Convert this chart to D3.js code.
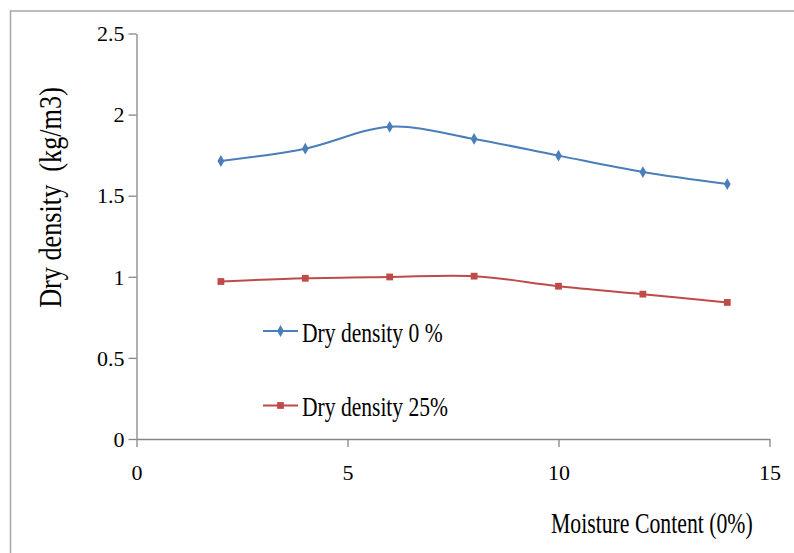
<!DOCTYPE html>
<html>
<head>
<meta charset="utf-8">
<script src="https://cdn.jsdelivr.net/npm/d3@7"></script>
<style>
  html, body { margin: 0; padding: 0; background: #fff; }
  svg { display: block; }
</style>
</head>
<body>
<svg id="chart" width="794" height="553"></svg>
<script>
// Moisture content (%) on the x axis
const moisture = [2, 4, 6, 8, 10, 12, 14];
// Dry density (kg/m3) for each mix
const dryDensity0 = [1.714, 1.79, 1.925, 1.85, 1.747, 1.646, 1.572];
const dryDensity25 = [0.971, 0.991, 0.999, 1.004, 0.942, 0.893, 0.842];
const seriesNames = ["Dry density 0 %", "Dry density 25%"];
const xTicks = [0, 5, 10, 15];
const yTicks = [0, 0.5, 1, 1.5, 2, 2.5];

const serif = '"Liberation Serif"';
const svg = d3.select("#chart");

// outer chart frame (runs off the right and bottom edges)
svg.append("rect")
  .attr("x", 10.5).attr("y", 11)
  .attr("width", 814).attr("height", 573)
  .attr("fill", "none").attr("stroke", "#a6a6a6").attr("stroke-width", 1.5);

const x = d3.scaleLinear().domain([0, 15]).range([136.5, 769.5]);
const y = d3.scaleLinear().domain([0, 2.5]).range([439, 33.5]);

const axisColor = "#868686";

const yAxis = svg.append("g").attr("transform", `translate(${x(0)},0)`)
  .call(d3.axisLeft(y).tickValues(yTicks).tickSizeOuter(0).tickSizeInner(8).tickFormat(d3.format("")));
const xAxis = svg.append("g").attr("transform", `translate(0,${y(0)})`)
  .call(d3.axisBottom(x).tickValues(xTicks).tickSizeOuter(0).tickSizeInner(8).tickFormat(d3.format("")));

for (const g of [yAxis, xAxis]) {
  g.attr("font-family", null).attr("font-size", null);
  g.select(".domain").attr("stroke", axisColor).attr("stroke-width", 1.3);
  g.selectAll(".tick line").attr("stroke", axisColor).attr("stroke-width", 1.3);
  g.selectAll(".tick text").style("font-family", serif).style("font-size", "22px");
}
yAxis.selectAll(".tick text").attr("x", -12).attr("dy", "0.33em");
xAxis.selectAll(".tick text").attr("y", 26).attr("dy", "0.7em");

// tall, narrow serif lettering for titles and legend
function label(tx, ty, str, size, sx, rot, anchor) {
  const g = svg.append("g")
    .attr("transform", `translate(${tx},${ty})` + (rot ? ` rotate(${rot})` : "") + ` scale(${sx},1)`);
  return g.append("text")
    .style("font-family", serif)
    .style("font-size", size + "px")
    .attr("text-anchor", anchor || "start")
    .attr("xml:space", "preserve")
    .text(str);
}

label(61, 197.5, "Dry density \u00a0(kg/m3)", 32, 0.82, -90, "middle");
label(551, 533, "Moisture Content (0%)", 29, 0.75, 0, "start");

const line = d3.line()
  .x((d, i) => x(moisture[i]))
  .y(d => y(d))
  .curve(d3.curveCardinal.tension(0));

const blue = "#4a7ebb", red = "#be4b48";
const diamond = d3.symbol().type(d3.symbolDiamond).size(40);
const square = d3.symbol().type(d3.symbolSquare).size(46);

svg.append("path").datum(dryDensity0)
  .attr("d", line).attr("fill", "none").attr("stroke", blue).attr("stroke-width", 2);
svg.selectAll(".m0").data(dryDensity0).enter().append("path")
  .attr("transform", (d, i) => `translate(${x(moisture[i])},${y(d)})`)
  .attr("d", diamond).attr("fill", blue);

svg.append("path").datum(dryDensity25)
  .attr("d", line).attr("fill", "none").attr("stroke", red).attr("stroke-width", 2);
svg.selectAll(".m25").data(dryDensity25).enter().append("path")
  .attr("transform", (d, i) => `translate(${x(moisture[i])},${y(d)})`)
  .attr("d", square).attr("fill", red);

// legend
const legendY = [331, 405.5];
const legendColors = [blue, red];
const legendSymbols = [diamond, square];
seriesNames.forEach((name, i) => {
  svg.append("line")
    .attr("x1", 263).attr("x2", 298)
    .attr("y1", legendY[i]).attr("y2", legendY[i])
    .attr("stroke", legendColors[i]).attr("stroke-width", 2);
  svg.append("path")
    .attr("transform", `translate(280.5,${legendY[i]})`)
    .attr("d", legendSymbols[i]).attr("fill", legendColors[i]);
  label(302, legendY[i] + 10.5, name, 28, 0.77, 0, "start");
});
</script>
</body>
</html>
